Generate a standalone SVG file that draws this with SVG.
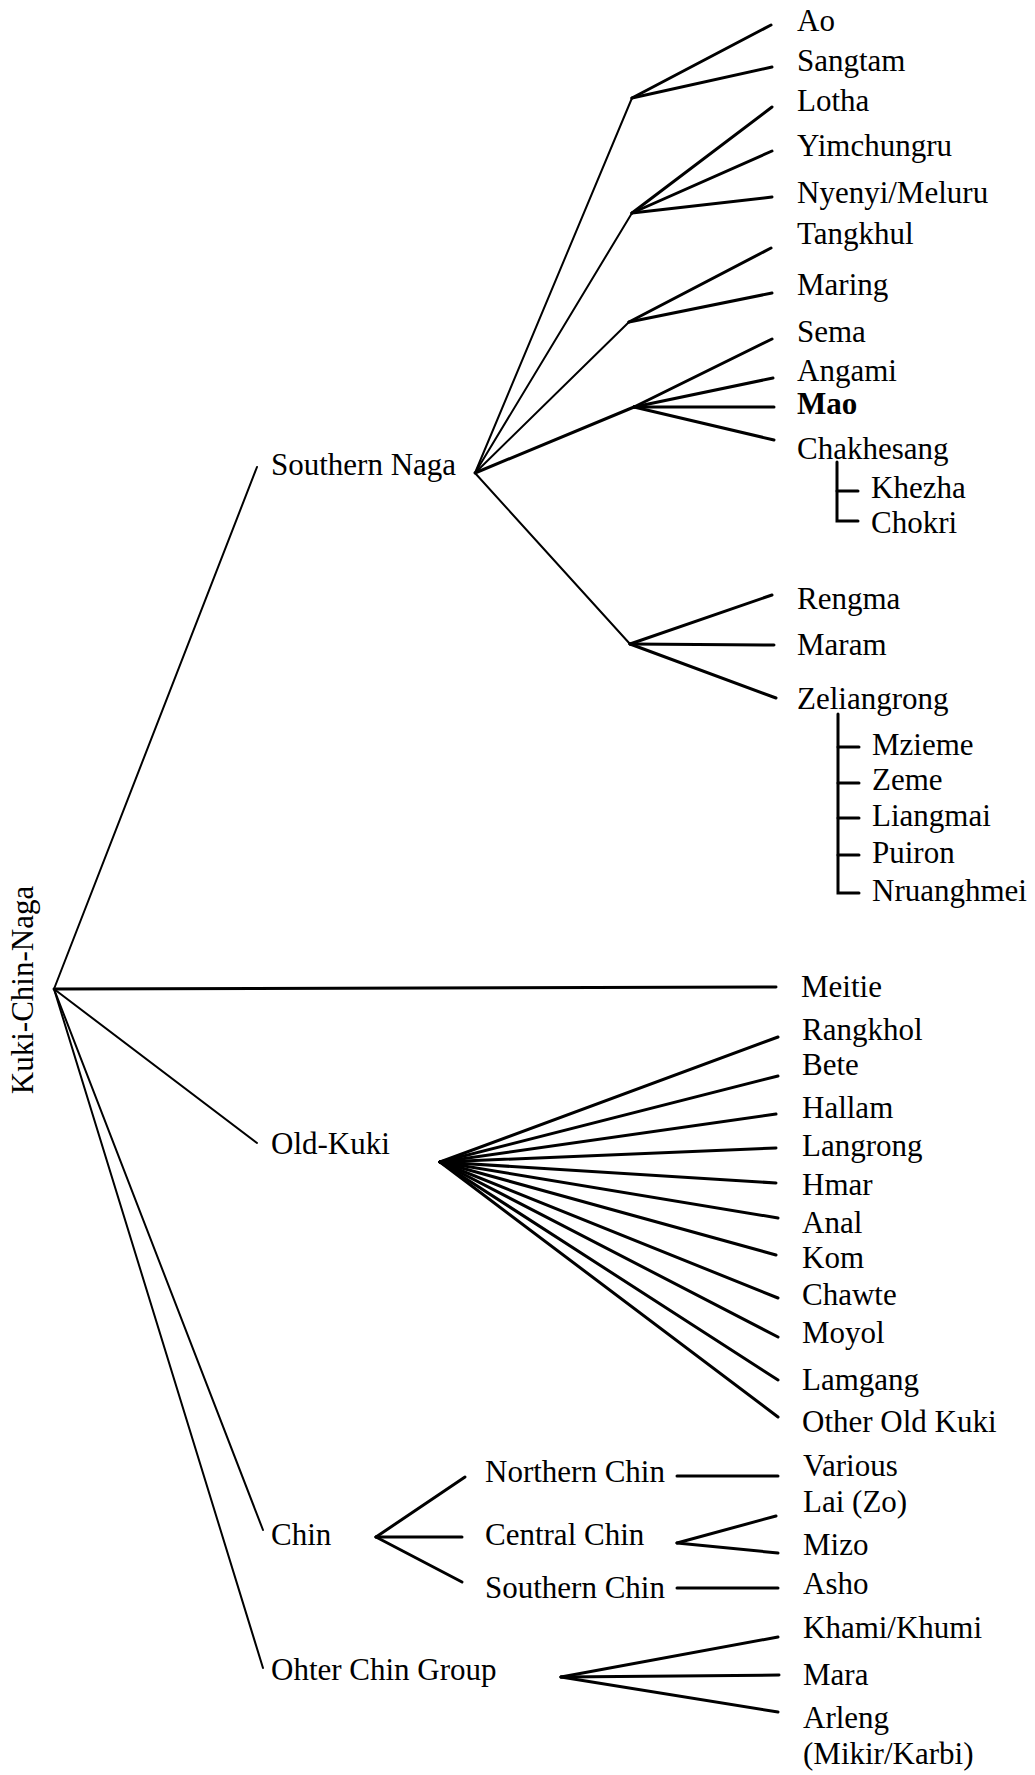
<svg xmlns="http://www.w3.org/2000/svg" width="1035" height="1775" viewBox="0 0 1035 1775">
<style>
text{font-family:"Liberation Serif","Times New Roman",serif;font-size:31px;fill:#000}
.b{font-weight:bold}
line,polyline{stroke:#000;fill:none;stroke-linecap:round}
.m{stroke-width:2}
.t{stroke-width:3}
</style>
<rect width="1035" height="1775" fill="#fff"/>
<g id="connectors">
<!-- root branches -->
<line class="m" x1="54" y1="989" x2="257" y2="467"/>
<line class="t" x1="54" y1="989" x2="776" y2="987"/>
<line class="m" x1="54" y1="989" x2="257" y2="1143"/>
<line class="m" x1="54" y1="989" x2="263" y2="1530"/>
<line class="m" x1="54" y1="989" x2="263" y2="1668"/>
<!-- Southern Naga to sub-junctions -->
<line class="m" x1="475" y1="473" x2="632" y2="98"/>
<line class="m" x1="475" y1="473" x2="632" y2="213"/>
<line class="m" x1="475" y1="473" x2="629" y2="322"/>
<line class="t" x1="475" y1="473" x2="634" y2="407"/>
<line class="m" x1="475" y1="473" x2="630" y2="644"/>
<!-- leaves -->
<line class="t" x1="632" y1="98" x2="771" y2="25"/>
<line class="t" x1="632" y1="98" x2="772" y2="67"/>
<line class="t" x1="632" y1="213" x2="772" y2="107"/>
<line class="t" x1="632" y1="213" x2="772" y2="151"/>
<line class="t" x1="632" y1="213" x2="772" y2="197"/>
<line class="t" x1="629" y1="322" x2="771" y2="248"/>
<line class="t" x1="629" y1="322" x2="772" y2="293"/>
<line class="t" x1="634" y1="407" x2="772" y2="339"/>
<line class="t" x1="634" y1="407" x2="773" y2="378"/>
<line class="t" x1="634" y1="407" x2="774" y2="407"/>
<line class="t" x1="634" y1="407" x2="774" y2="440"/>
<line class="t" x1="630" y1="644" x2="772" y2="595"/>
<line class="t" x1="630" y1="644" x2="774" y2="645"/>
<line class="t" x1="630" y1="644" x2="776" y2="698"/>
<!-- Chakhesang bracket -->
<polyline class="t" points="837,462 837,521 858,521"/>
<line class="t" x1="837" y1="491" x2="858" y2="491"/>
<!-- Zeliangrong bracket -->
<polyline class="t" points="838,714 838,893 859,893"/>
<line class="t" x1="838" y1="747" x2="859" y2="747"/>
<line class="t" x1="838" y1="783" x2="859" y2="783"/>
<line class="t" x1="838" y1="818" x2="859" y2="818"/>
<line class="t" x1="838" y1="855" x2="859" y2="855"/>
<!-- Old-Kuki fan -->
<line class="t" x1="440" y1="1162" x2="778" y2="1037"/>
<line class="t" x1="440" y1="1162" x2="778" y2="1076"/>
<line class="t" x1="440" y1="1162" x2="776" y2="1114"/>
<line class="t" x1="440" y1="1162" x2="776" y2="1148"/>
<line class="t" x1="440" y1="1162" x2="776" y2="1183"/>
<line class="t" x1="440" y1="1162" x2="778" y2="1218"/>
<line class="t" x1="440" y1="1162" x2="776" y2="1255"/>
<line class="t" x1="440" y1="1162" x2="778" y2="1298"/>
<line class="t" x1="440" y1="1162" x2="778" y2="1337"/>
<line class="t" x1="440" y1="1162" x2="778" y2="1380"/>
<line class="t" x1="440" y1="1162" x2="778" y2="1417"/>
<!-- Chin -->
<line class="t" x1="376" y1="1537" x2="465" y2="1477"/>
<line class="t" x1="376" y1="1537" x2="462" y2="1537"/>
<line class="t" x1="376" y1="1537" x2="462" y2="1582"/>
<line class="t" x1="677" y1="1476" x2="778" y2="1476"/>
<line class="t" x1="677" y1="1543" x2="776" y2="1516"/>
<line class="t" x1="677" y1="1543" x2="778" y2="1553"/>
<line class="t" x1="677" y1="1588" x2="778" y2="1588"/>
<!-- Other Chin Group -->
<line class="t" x1="561" y1="1677" x2="778" y2="1637"/>
<line class="t" x1="561" y1="1677" x2="779" y2="1675"/>
<line class="t" x1="561" y1="1677" x2="778" y2="1712"/>
</g>
<g id="root"><text transform="translate(33,990) rotate(-90)" text-anchor="middle">Kuki-Chin-Naga</text></g>
<g id="southern-naga"><text x="271" y="475">Southern Naga</text></g>
<g id="old-kuki"><text x="271" y="1154">Old-Kuki</text></g>
<g id="chin"><text x="271" y="1545">Chin</text></g>
<g id="other-chin-group"><text x="271" y="1680">Ohter Chin Group</text></g>
<g id="northern-chin"><text x="485" y="1482">Northern Chin</text></g>
<g id="central-chin"><text x="485" y="1545">Central Chin</text></g>
<g id="southern-chin"><text x="485" y="1598">Southern Chin</text></g>
<g id="ao"><text x="797" y="31">Ao</text></g>
<g id="sangtam"><text x="797" y="71">Sangtam</text></g>
<g id="lotha"><text x="797" y="111">Lotha</text></g>
<g id="yimchungru"><text x="797" y="156">Yimchungru</text></g>
<g id="nyenyi"><text x="797" y="203">Nyenyi/Meluru</text></g>
<g id="tangkhul"><text x="797" y="244">Tangkhul</text></g>
<g id="maring"><text x="797" y="295">Maring</text></g>
<g id="sema"><text x="797" y="342">Sema</text></g>
<g id="angami"><text x="797" y="381">Angami</text></g>
<g id="mao"><text class="b" x="797" y="414">Mao</text></g>
<g id="chakhesang"><text x="797" y="459">Chakhesang</text></g>
<g id="khezha"><text x="871" y="498">Khezha</text></g>
<g id="chokri"><text x="871" y="533">Chokri</text></g>
<g id="rengma"><text x="797" y="609">Rengma</text></g>
<g id="maram"><text x="797" y="655">Maram</text></g>
<g id="zeliangrong"><text x="797" y="709">Zeliangrong</text></g>
<g id="mzieme"><text x="872" y="755">Mzieme</text></g>
<g id="zeme"><text x="872" y="790">Zeme</text></g>
<g id="liangmai"><text x="872" y="826">Liangmai</text></g>
<g id="puiron"><text x="872" y="863">Puiron</text></g>
<g id="nruanghmei"><text x="872" y="901">Nruanghmei</text></g>
<g id="meitie"><text x="801" y="997">Meitie</text></g>
<g id="rangkhol"><text x="802" y="1040">Rangkhol</text></g>
<g id="bete"><text x="802" y="1075">Bete</text></g>
<g id="hallam"><text x="802" y="1118">Hallam</text></g>
<g id="langrong"><text x="802" y="1156">Langrong</text></g>
<g id="hmar"><text x="802" y="1195">Hmar</text></g>
<g id="anal"><text x="802" y="1233">Anal</text></g>
<g id="kom"><text x="802" y="1268">Kom</text></g>
<g id="chawte"><text x="802" y="1305">Chawte</text></g>
<g id="moyol"><text x="802" y="1343">Moyol</text></g>
<g id="lamgang"><text x="802" y="1390">Lamgang</text></g>
<g id="other-old-kuki"><text x="802" y="1432">Other Old Kuki</text></g>
<g id="various"><text x="803" y="1476">Various</text></g>
<g id="lai"><text x="803" y="1512">Lai (Zo)</text></g>
<g id="mizo"><text x="803" y="1555">Mizo</text></g>
<g id="asho"><text x="803" y="1594">Asho</text></g>
<g id="khami"><text x="803" y="1638">Khami/Khumi</text></g>
<g id="mara"><text x="803" y="1685">Mara</text></g>
<g id="arleng"><text x="803" y="1728">Arleng</text><text x="803" y="1764">(Mikir/Karbi)</text></g>
</svg>
